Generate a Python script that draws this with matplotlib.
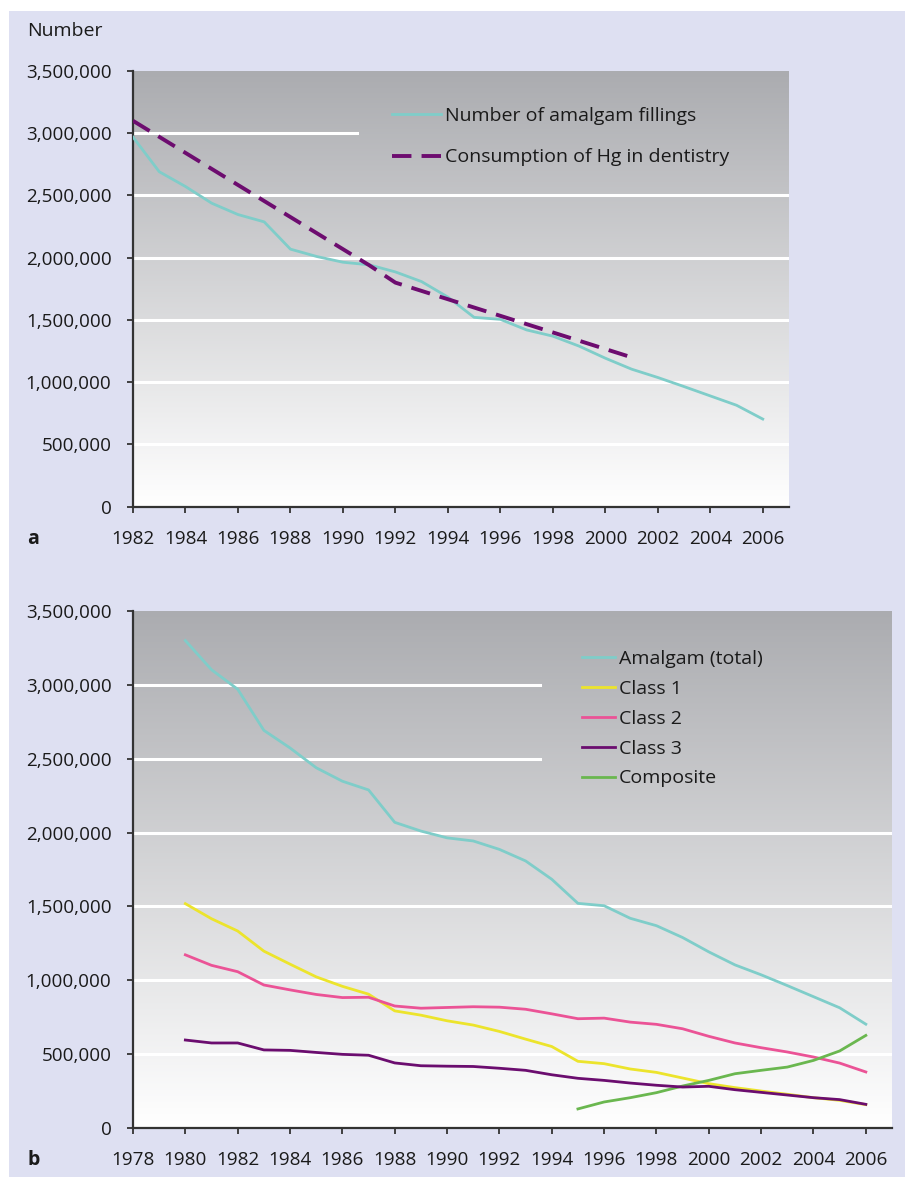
import numpy as np
import matplotlib
matplotlib.use('Agg')
import matplotlib.pyplot as plt
import matplotlib.ticker as mticker
from matplotlib.colors import LinearSegmentedColormap
from matplotlib.patches import Rectangle

plt.rcParams['font.family'] = ['Open Sans', 'DejaVu Sans']

# data
years = list(range(1980, 2007))
amalgam_total = [3298000, 3101000, 2969000, 2691000, 2572000, 2438000, 2347000,
                 2288000, 2069000, 2010000, 1964000, 1943000, 1886000, 1808000,
                 1684000, 1521000, 1505000, 1420000, 1370000, 1290000, 1193000,
                 1105000, 1038000, 965000, 890000, 815000, 704000]
class1 = [1519000, 1417000, 1334000, 1198000, 1110000, 1024000, 960000, 907000,
          794000, 765000, 727000, 698000, 655000, 603000, 553000, 453000, 437000,
          401000, 378000, 340000, 302000, 275000, 252000, 230000, 207000, 189000,
          160000]
class2 = [1173000, 1102000, 1059000, 969000, 936000, 905000, 884000, 886000,
          827000, 812000, 817000, 822000, 819000, 805000, 774000, 741000, 745000,
          718000, 703000, 673000, 622000, 577000, 545000, 516000, 482000, 441000,
          381000]
class3 = [597000, 577000, 577000, 530000, 527000, 513000, 500000, 494000,
          442000, 423000, 420000, 418000, 406000, 392000, 362000, 338000, 324000,
          306000, 291000, 279000, 284000, 261000, 243000, 225000, 207000, 194000,
          162000]
composite_years = list(range(1995, 2007))
composite = [131000, 178000, 207000, 241000, 286000, 324000, 369000, 392000,
             414000, 459000, 523000, 628000]
hg_years = [1982, 1991, 1992, 2001]
hg_consumption = [3100000, 1940000, 1800000, 1200000]

yticks = [0, 500000, 1000000, 1500000, 2000000, 2500000, 3000000, 3500000]
xticks_a = list(range(1982, 2007, 2))
xticks_b = list(range(1978, 2007, 2))

c_amalgam = '#7fcdc9'
c_class1 = '#ece42c'
c_class2 = '#eb5396'
c_class3 = '#6b0d6f'
c_comp = '#6ab74f'
c_hg = '#6d0c6f'
bg = '#dee0f2'
txt = '#1a1a1a'

fig = plt.figure(figsize=(9.05, 11.77), dpi=100, facecolor='white')
fig.patches.append(Rectangle((9 / 905, 0), 1, 1 - 11 / 1177,
                             transform=fig.transFigure, facecolor=bg,
                             edgecolor='none', zorder=-10))

grad_cmap = LinearSegmentedColormap.from_list('g', ['#abacb0', '#ffffff'])
grad = np.linspace(0, 1, 256).reshape(-1, 1)


def setup(ax, xmin, xmax, xticks, partial, frac):
    ax.set_facecolor('none')
    ax.imshow(grad, extent=[xmin, xmax, 0, 3500000], aspect='auto',
              cmap=grad_cmap, zorder=0, origin='upper')
    ax.set_xlim(xmin, xmax)
    ax.set_ylim(0, 3500000)
    for v in yticks[1:-1]:
        if v in partial:
            ax.axhline(v, xmax=frac, color='white', lw=2.2, zorder=1)
        else:
            ax.axhline(v, color='white', lw=2.2, zorder=1)
    for s in ['top', 'right']:
        ax.spines[s].set_visible(False)
    for s in ['left', 'bottom']:
        ax.spines[s].set_color('#333333')
        ax.spines[s].set_linewidth(1.6)
    ax.set_xticks(xticks)
    ax.set_yticks(yticks)
    ax.yaxis.set_major_formatter(mticker.FuncFormatter(lambda v, p: f'{int(v):,}'))
    ax.tick_params(direction='out', length=4.5, width=1.3, color='#333333',
                   labelsize=13.6, labelcolor=txt, pad=11)
    ax.tick_params(axis='x', pad=12)


# panel a
ax1 = fig.add_axes([133 / 905, 1 - 506.7 / 1177, 656 / 905, 435.7 / 1177])
setup(ax1, 1982, 2007, xticks_a, [3000000], 0.341)
ax1.plot(years[2:], amalgam_total[2:], color=c_amalgam, lw=2.0, zorder=3,
         label='Number of amalgam fillings')
ax1.plot(hg_years, hg_consumption, color=c_hg, lw=2.8, dashes=(5, 2.6),
         zorder=4, label='Consumption of Hg in dentistry')
ax1.legend(loc='upper left', bbox_to_anchor=(0.395, 0.918), frameon=False,
           fontsize=14, handlelength=2.5, handletextpad=0.2, labelspacing=1.22,
           borderpad=0, borderaxespad=0, labelcolor=txt)

# panel b
ax2 = fig.add_axes([133 / 905, 1 - 1128.3 / 1177, 759 / 905, 517.6 / 1177])
setup(ax2, 1978, 2007, xticks_b, [3000000, 2500000], 0.536)
ax2.plot(years, amalgam_total, color=c_amalgam, lw=2.0, zorder=3, label='Amalgam (total)')
ax2.plot(years, class1, color=c_class1, lw=2.0, zorder=3, label='Class 1')
ax2.plot(years, class2, color=c_class2, lw=2.0, zorder=3, label='Class 2')
ax2.plot(years, class3, color=c_class3, lw=2.0, zorder=4, label='Class 3')
ax2.plot(composite_years, composite, color=c_comp, lw=2.0, zorder=3, label='Composite')
ax2.legend(loc='upper left', bbox_to_anchor=(0.591, 0.924), frameon=False,
           fontsize=14, handlelength=1.7, handletextpad=0.2, labelspacing=0.61,
           borderpad=0, borderaxespad=0, labelcolor=txt)

fig.text(27 / 905, 1 - 31 / 1177, 'Number', fontsize=14, color=txt,
         ha='left', va='center')
fig.text(27 / 905, 1 - 539 / 1177, 'a', fontsize=14, fontweight='bold',
         color=txt, ha='left', va='center')
fig.text(27 / 905, 1 - 1160 / 1177, 'b', fontsize=14, fontweight='bold',
         color=txt, ha='left', va='center')

fig.savefig('out.png', dpi=100, facecolor=fig.get_facecolor())
